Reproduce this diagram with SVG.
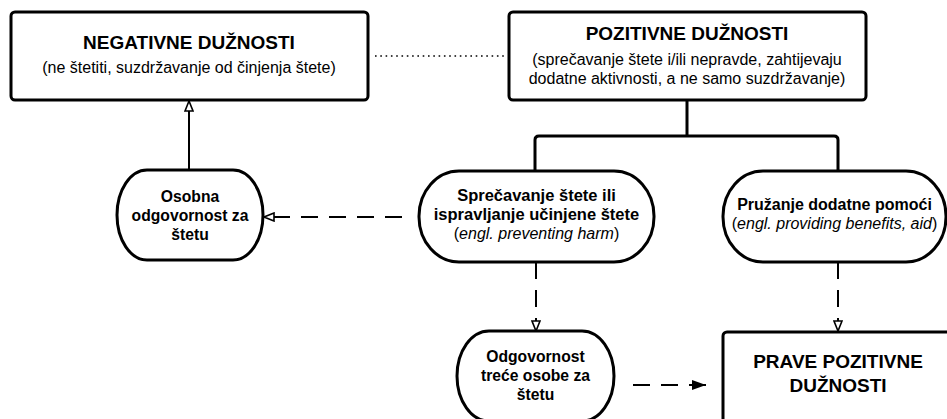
<svg xmlns="http://www.w3.org/2000/svg" width="947" height="419" viewBox="0 0 947 419">
<style>
  .box { fill: #ffffff; stroke: #000000; stroke-width: 3; }
  .t { font-family: "Liberation Sans", Arial, sans-serif; fill: #000000; text-anchor: middle; }
  .title { font-size: 19px; font-weight: bold; }
  .sub { font-size: 16px; }
  .nb { font-size: 15.7px; font-weight: bold; }
  .nb2 { font-size: 16.5px; font-weight: bold; }
  .nb3 { font-size: 16px; font-weight: bold; }
  .it { font-style: italic; }
  .solid { fill: none; stroke: #000000; stroke-width: 2; }
  .tree { fill: none; stroke: #000000; stroke-width: 3; stroke-linejoin: round; }
  .dash { fill: none; stroke: #000000; stroke-width: 2; stroke-dasharray: 17 11; }
  .dot { fill: none; stroke: #000000; stroke-width: 1.6; stroke-dasharray: 1.6 3.7; }
</style>
<defs>
  <marker id="open" viewBox="0 0 12 10" refX="11" refY="5" markerWidth="12" markerHeight="10" markerUnits="userSpaceOnUse" orient="auto">
    <path d="M1,1 L11,5 L1,9 Z" fill="#ffffff" stroke="#000000" stroke-width="1.6"/>
  </marker>
  <marker id="filled" viewBox="0 0 14 10" refX="14" refY="5" markerWidth="14" markerHeight="10" markerUnits="userSpaceOnUse" orient="auto">
    <path d="M0,0 L14,5 L0,10 Z" fill="#000000"/>
  </marker>
</defs>

<g id="connectors">
  <line class="dot" x1="375" y1="56" x2="506" y2="56"/>
  <path class="tree" d="M687,100 V136 M535,171 V140 Q535,136 539,136 H834 Q838,136 838,140 V171"/>
  <line class="solid" x1="189" y1="170" x2="189" y2="101" marker-end="url(#open)"/>
  <line class="dash" x1="402" y1="217" x2="264" y2="217" marker-end="url(#open)"/>
  <line class="dash" x1="536" y1="262" x2="536" y2="331" marker-end="url(#open)"/>
  <line class="dash" x1="838" y1="262" x2="838" y2="331" marker-end="url(#open)"/>
  <line class="dash" x1="633" y1="385" x2="706" y2="385" marker-end="url(#filled)"/>
</g>

<g id="negativne">
  <rect class="box" x="11" y="12" width="357" height="88" rx="4"/>
  <text class="t title" x="189" y="49">NEGATIVNE DUŽNOSTI</text>
  <text class="t sub" x="189" y="73">(ne štetiti, suzdržavanje od činjenja štete)</text>
</g>

<g id="pozitivne">
  <rect class="box" x="509" y="12" width="357" height="88" rx="4"/>
  <text class="t title" x="687" y="40">POZITIVNE DUŽNOSTI</text>
  <text class="t sub" x="687" y="65">(sprečavanje štete i/ili nepravde, zahtijevaju</text>
  <text class="t sub" x="687" y="84">dodatne aktivnosti, a ne samo suzdržavanje)</text>
</g>

<g id="osobna">
  <rect class="box" x="117" y="170" width="146" height="90" rx="30" ry="45"/>
  <text class="t nb" x="190" y="202">Osobna</text>
  <text class="t nb" x="190" y="221">odgovornost za</text>
  <text class="t nb" x="190" y="240">štetu</text>
</g>

<g id="sprecavanje">
  <rect class="box" x="419" y="171" width="235" height="91" rx="40" ry="45"/>
  <text class="t nb2" x="536.5" y="201">Sprečavanje štete ili</text>
  <text class="t nb2" x="536.5" y="220">ispravljanje učinjene štete</text>
  <text class="t sub" x="536.5" y="239">(<tspan class="it">engl. preventing harm</tspan>)</text>
</g>

<g id="pruzanje">
  <rect class="box" x="723" y="171" width="223" height="91" rx="40" ry="45"/>
  <text class="t nb3" x="834.5" y="210">Pružanje dodatne pomoći</text>
  <text class="t sub" x="834.5" y="229">(<tspan class="it">engl. providing benefits, aid</tspan>)</text>
</g>

<g id="odgovornost">
  <rect class="box" x="457" y="331" width="157" height="90" rx="32" ry="45"/>
  <text class="t nb" x="535.5" y="362">Odgovornost</text>
  <text class="t nb" x="535.5" y="381">treće osobe za</text>
  <text class="t nb" x="535.5" y="400">štetu</text>
</g>

<g id="prave">
  <rect class="box" x="723" y="332" width="240" height="100" rx="4"/>
  <text class="t title" x="838" y="368">PRAVE POZITIVNE</text>
  <text class="t title" x="838" y="392">DUŽNOSTI</text>
</g>
</svg>
